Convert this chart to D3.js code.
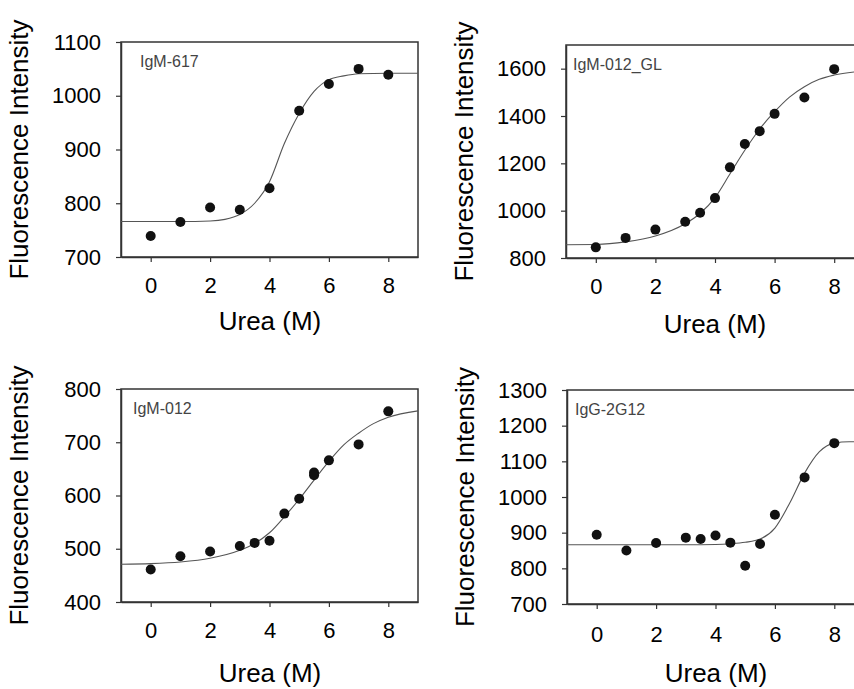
<!DOCTYPE html>
<html>
<head>
<meta charset="utf-8">
<script src="https://cdn.jsdelivr.net/npm/d3@7"></script>
<style>
  body { margin: 0; background: #fff; }
  svg { display: block; font-family: 'Liberation Sans', Arial, sans-serif; }
</style>
</head>
<body>
<div id="chart"></div>
<script>
// panel names, in reading order
const panelNames = ['IgM-617', 'IgM-012_GL', 'IgM-012', 'IgG-2G12'];

// measured points (urea M, fluorescence)
const urea617 = [0, 1, 2, 3, 4, 5, 6, 7, 8];
const fluor617 = [739, 765, 792, 788, 828, 972, 1022, 1050, 1039];
const urea012GL = [0, 1, 2, 3, 3.5, 4, 4.5, 5, 5.5, 6, 7, 8];
const fluor012GL = [845, 885, 920, 953, 991, 1053, 1183, 1282, 1336, 1409, 1478, 1598];
const urea012 = [0, 1, 2, 3, 3.5, 4, 4.5, 5, 5.5, 5.5, 6, 7, 8];
const fluor012 = [461, 486, 495, 505, 511, 515, 566, 594, 643, 638, 666, 696, 758];
const urea2G12 = [0, 1, 2, 3, 3.5, 4, 4.5, 5, 5.5, 6, 7, 8];
const fluor2G12 = [894, 850, 871, 886, 882, 892, 872, 807, 868, 950, 1055, 1151];

// fitted curves
const fitX617 = [-1, 0, 1, 2, 2.5, 3, 3.5, 4, 4.5, 5, 5.5, 6, 6.5, 7, 8, 9];
const fitY617 = [766, 766, 766, 767, 770, 779, 800, 840, 911, 967, 1008, 1030, 1037, 1041, 1042, 1042];
const fitX012GL = [-1, 0, 1, 2, 3, 3.5, 4, 4.5, 5, 5.5, 6, 6.5, 7, 7.5, 8, 9];
const fitY012GL = [856, 857, 868, 893, 945, 988, 1055, 1155, 1255, 1345, 1418, 1480, 1524, 1555, 1573, 1590];
const fitX012 = [-1, 0, 1, 2, 3, 3.5, 4, 4.5, 5, 5.5, 6, 6.5, 7, 7.5, 8, 9];
const fitY012 = [471, 472, 475, 482, 497, 510, 530, 560, 593, 629, 664, 695, 717, 735, 747, 759];
const fitX2G12 = [-1, 0, 1, 2, 3, 4, 4.5, 5, 5.5, 6, 6.5, 7, 7.5, 8, 8.5, 9];
const fitY2G12 = [866, 866, 866, 866, 866, 867, 869, 873, 882, 913, 983, 1067, 1127, 1151, 1155, 1155];

// axis ranges and tick labels
const xDomain = [-1, 9];
const xTicks = [0, 2, 4, 6, 8];
const yDomains = [[700, 1100], [800, 1700], [400, 800], [700, 1300]];
const yTicks = [
  [700, 800, 900, 1000, 1100],
  [800, 1000, 1200, 1400, 1600],
  [400, 500, 600, 700, 800],
  [700, 800, 900, 1000, 1100, 1200, 1300]
];
const xTitle = 'Urea (M)';
const yTitle = 'Fluorescence Intensity';

const pointsX = [urea617, urea012GL, urea012, urea2G12];
const pointsY = [fluor617, fluor012GL, fluor012, fluor2G12];
const fitsX = [fitX617, fitX012GL, fitX012, fitX2G12];
const fitsY = [fitY617, fitY012GL, fitY012, fitY2G12];

// frame boxes in page pixels
const boxes = [
  { left: 121, right: 418, top: 42, bottom: 257, labelDx: 19, tickPad: 15, titleDy: 73 },
  { left: 566, right: 864, top: 45, bottom: 258, labelDx: 7, tickPad: 15, titleDy: 75 },
  { left: 121, right: 418, top: 389, bottom: 602, labelDx: 12, tickPad: 15, titleDy: 80 },
  { left: 567, right: 864, top: 390, bottom: 604, labelDx: 8, tickPad: 17, titleDy: 78 }
];

const svg = d3.select('#chart')
  .append('svg')
  .attr('width', 854)
  .attr('height', 689);

panelNames.forEach((name, i) => {
  const b = boxes[i];
  const x = d3.scaleLinear().domain(xDomain).range([b.left, b.right]);
  const y = d3.scaleLinear().domain(yDomains[i]).range([b.bottom, b.top]);
  const g = svg.append('g');

  // frame
  g.append('rect')
    .attr('x', b.left)
    .attr('y', b.top)
    .attr('width', b.right - b.left)
    .attr('height', b.bottom - b.top)
    .attr('fill', 'none')
    .attr('stroke', '#333')
    .attr('stroke-width', 1.5);

  const xAxis = g.append('g')
    .attr('transform', 'translate(0,' + b.bottom + ')')
    .call(d3.axisBottom(x).tickValues(xTicks).tickFormat(d3.format('d'))
      .tickSize(5).tickPadding(b.tickPad).tickSizeOuter(0));
  const yAxis = g.append('g')
    .attr('transform', 'translate(' + b.left + ',0)')
    .call(d3.axisLeft(y).tickValues(yTicks[i]).tickFormat(d3.format('d'))
      .tickSize(5).tickPadding(15).tickSizeOuter(0));

  [xAxis, yAxis].forEach(a => {
    a.select('.domain').attr('stroke', '#333').attr('stroke-width', 1.5);
    a.selectAll('.tick line').attr('stroke', '#333').attr('stroke-width', 1.2);
    a.selectAll('.tick text')
      .attr('fill', '#000')
      .style('font-size', '22px')
      .style('font-family', "'Liberation Sans', Arial, sans-serif");
  });

  // fitted curve
  const fit = fitsX[i].map((v, k) => [v, fitsY[i][k]]);
  g.append('path')
    .datum(fit)
    .attr('fill', 'none')
    .attr('stroke', '#555')
    .attr('stroke-width', 1.1)
    .attr('d', d3.line().x(d => x(d[0])).y(d => y(d[1])).curve(d3.curveMonotoneX));

  // data points
  g.selectAll('circle')
    .data(pointsX[i].map((v, k) => [v, pointsY[i][k]]))
    .enter()
    .append('circle')
    .attr('cx', d => x(d[0]))
    .attr('cy', d => y(d[1]))
    .attr('r', 5)
    .attr('fill', '#111');

  // panel label
  g.append('text')
    .attr('x', b.left + b.labelDx)
    .attr('y', b.top + 25)
    .attr('fill', '#444')
    .style('font-size', '16px')
    .text(name);

  // axis titles
  g.append('text')
    .attr('x', (b.left + 298 / 2))
    .attr('y', b.bottom + b.titleDy)
    .attr('text-anchor', 'middle')
    .attr('fill', '#000')
    .style('font-size', '26px')
    .text(xTitle);

  g.append('text')
    .attr('transform', 'translate(' + (b.left - 93) + ',' + ((b.top + b.bottom) / 2) + ') rotate(-90)')
    .attr('text-anchor', 'middle')
    .attr('fill', '#000')
    .style('font-size', '26px')
    .text(yTitle);
});
</script>
</body>
</html>
